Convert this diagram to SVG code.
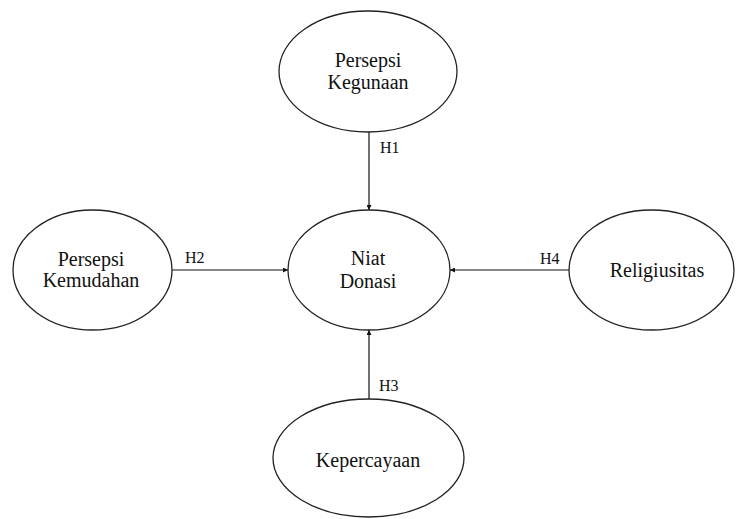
<svg xmlns="http://www.w3.org/2000/svg" width="736" height="519" viewBox="0 0 736 519">
  <style>
    .node ellipse { fill: #ffffff; stroke: #222222; stroke-width: 1.3; }
    .node text { font-family: 'Times New Roman', Times, Tinos, 'Nimbus Roman', 'Liberation Serif', 'DejaVu Serif', serif; font-size: 20px; fill: #111111; text-anchor: middle; }
    .edge line { stroke: #111111; stroke-width: 1.2; }
    .lbl { font-family: 'Times New Roman', Times, Tinos, 'Nimbus Roman', 'Liberation Serif', 'DejaVu Serif', serif; font-size: 16px; fill: #111111; }
  </style>
  <defs>
    <marker id="arrow" viewBox="0 0 10 10" refX="10" refY="5" markerWidth="6" markerHeight="5" markerUnits="userSpaceOnUse" orient="auto">
      <path d="M0,0 L10,5 L0,10 Z" fill="#111111"/>
    </marker>
  </defs>
  <rect width="736" height="519" fill="#ffffff"/>

  <g id="connectors" class="edge">
    <line x1="369" y1="132" x2="369" y2="210" marker-end="url(#arrow)"/>
    <line x1="172" y1="270" x2="288" y2="270" marker-end="url(#arrow)"/>
    <line x1="569" y1="270" x2="450" y2="270" marker-end="url(#arrow)"/>
    <line x1="369" y1="399" x2="369" y2="330" marker-end="url(#arrow)"/>
    <text class="lbl" x="380" y="153">H1</text>
    <text class="lbl" x="185" y="263">H2</text>
    <text class="lbl" x="379" y="391">H3</text>
    <text class="lbl" x="540" y="264">H4</text>
  </g>

  <g id="persepsi-kegunaan" class="node">
    <ellipse cx="368" cy="71.5" rx="89" ry="60.5"/>
    <text x="368" y="67">Persepsi</text>
    <text x="368" y="89">Kegunaan</text>
  </g>

  <g id="niat-donasi" class="node">
    <ellipse cx="369" cy="270" rx="81" ry="60"/>
    <text x="368" y="265">Niat</text>
    <text x="368" y="288">Donasi</text>
  </g>

  <g id="persepsi-kemudahan" class="node">
    <ellipse cx="92.5" cy="270" rx="79.5" ry="60"/>
    <text x="91" y="266">Persepsi</text>
    <text x="91" y="287">Kemudahan</text>
  </g>

  <g id="religiusitas" class="node">
    <ellipse cx="651.5" cy="270" rx="82.5" ry="60"/>
    <text x="657" y="277">Religiusitas</text>
  </g>

  <g id="kepercayaan" class="node">
    <ellipse cx="368.5" cy="458" rx="95.5" ry="59"/>
    <text x="368" y="467">Kepercayaan</text>
  </g>
</svg>
